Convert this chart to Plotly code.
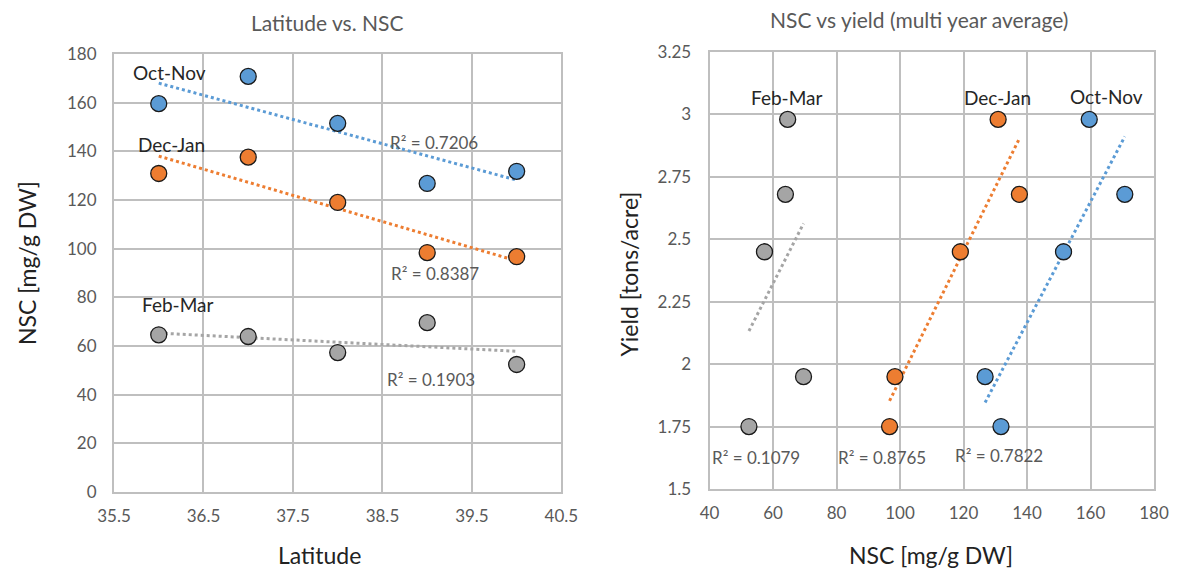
import numpy as np
import plotly.graph_objects as go

# ---------------- data ----------------
latitude = [36, 37, 38, 39, 40]
yield_tons = [2.98, 2.68, 2.45, 1.95, 1.75]   # yield by latitude (36..40)
series_names = ["Oct-Nov", "Dec-Jan", "Feb-Mar"]
nsc_oct_nov = [159.6, 170.8, 151.5, 126.8, 131.8]
nsc_dec_jan = [130.9, 137.6, 119.0, 98.4, 96.7]
nsc_feb_mar = [64.6, 63.9, 57.3, 69.6, 52.4]
r2_left = ["R² = 0.7206", "R² = 0.8387", "R² = 0.1903"]
r2_right = ["R² = 0.7822", "R² = 0.8765", "R² = 0.1079"]

left_xticks = [35.5, 36.5, 37.5, 38.5, 39.5, 40.5]
left_yticks = [0, 20, 40, 60, 80, 100, 120, 140, 160, 180]
right_xticks = [40, 60, 80, 100, 120, 140, 160, 180]
right_yticks = [1.5, 1.75, 2, 2.25, 2.5, 2.75, 3, 3.25]
right_yticklabels = ["1.5", "1.75", "2", "2.25", "2.5", "2.75", "3", "3.25"]

colors = ["#5B9BD5", "#ED7D31", "#A5A5A5"]
nsc_all = [nsc_oct_nov, nsc_dec_jan, nsc_feb_mar]

FONT = "Lato, 'Open Sans', sans-serif"
GRID = "#BFBFBF"
TXT = "#595959"

W, H = 1183, 573
ML, MR, MT, MB = 114, 16, 52, 81
PW, PH = W - ML - MR, H - MT - MB

fig = go.Figure()

def trend(x, y):
    x = np.asarray(x, float); y = np.asarray(y, float)
    m, b = np.polyfit(x, y, 1)
    xs = np.array([x.min(), x.max()])
    return xs, m * xs + b

# left chart
for name, col, nsc in zip(series_names, colors, nsc_all):
    tx, ty = trend(latitude, nsc)
    fig.add_trace(go.Scatter(x=tx, y=ty, mode="lines", xaxis="x", yaxis="y",
                             line=dict(color=col, width=3, dash="dot"),
                             showlegend=False, hoverinfo="skip"))
for name, col, nsc in zip(series_names, colors, nsc_all):
    fig.add_trace(go.Scatter(x=latitude, y=nsc, mode="markers", name=name,
                             xaxis="x", yaxis="y",
                             marker=dict(color=col, size=16,
                                         line=dict(color="#1a1a1a", width=1.3)),
                             showlegend=False))

# right chart
for name, col, nsc in zip(series_names, colors, nsc_all):
    tx, ty = trend(nsc, yield_tons)
    fig.add_trace(go.Scatter(x=tx, y=ty, mode="lines", xaxis="x2", yaxis="y2",
                             line=dict(color=col, width=3, dash="dot"),
                             showlegend=False, hoverinfo="skip"))
for name, col, nsc in zip(series_names, colors, nsc_all):
    fig.add_trace(go.Scatter(x=nsc, y=yield_tons, mode="markers", name=name,
                             xaxis="x2", yaxis="y2",
                             marker=dict(color=col, size=16,
                                         line=dict(color="#1a1a1a", width=1.3)),
                             showlegend=False))

axis_common = dict(showgrid=True, gridcolor=GRID, gridwidth=2,
                   showline=True, linecolor=GRID, linewidth=2, mirror=True,
                   zeroline=False, ticks="",
                   tickfont=dict(family=FONT, size=17, color=TXT))

left_end = (567 - ML) / PW
right_start = (717 - ML) / PW

fig.update_layout(
    width=W, height=H,
    margin=dict(l=ML, r=MR, t=MT, b=MB),
    paper_bgcolor="white", plot_bgcolor="white",
    font=dict(family=FONT),
    xaxis=dict(domain=[0, left_end], range=[35.5, 40.5], tickvals=left_xticks,
               ticktext=[str(v) for v in left_xticks], anchor="y",
               ticklabelstandoff=8, **axis_common),
    yaxis=dict(domain=[0, 1 - 2 / PH], range=[0, 180], tickvals=left_yticks,
               anchor="x", ticklabelstandoff=12, **axis_common),
    xaxis2=dict(domain=[right_start, 1.0], range=[40, 180], tickvals=right_xticks,
                anchor="y2", ticklabelstandoff=8, **axis_common),
    yaxis2=dict(domain=[3 / PH, 1.0], range=[1.5, 3.25], tickvals=right_yticks,
                ticktext=right_yticklabels, anchor="x2",
                ticklabelstandoff=13, **axis_common),
)

ann = []
def add(text, x, y, xref, yref, size=17, color=TXT, angle=0):
    ann.append(dict(text=text, x=x, y=y, xref=xref, yref=yref, showarrow=False,
                    font=dict(family=FONT, size=size, color=color),
                    textangle=angle, xanchor="center", yanchor="middle"))

def addpx(text, px, py, size, color, angle=0):
    add(text, (px - ML) / PW, (H - MB - py) / PH, "paper", "paper", size, color, angle)

# chart titles
addpx("Latitude vs. NSC", 330, 23, 21, TXT)
addpx("NSC vs yield (multi year average)", 929, 19, 21, TXT)
# axis titles
addpx("Latitude", 322, 555, 23, "#222")
addpx("NSC [mg/g DW]", 26, 263, 23, "#222", angle=-90)
addpx("Yield [tons/acre]", 635, 274, 23, "#222", angle=-90)
addpx("NSC [mg/g DW]", 941, 555, 23, "#222")

LBL = "#262626"
# series labels (left)
add("Oct-Nov", 36.12, 172.6, "x", "y", size=19, color=LBL)
add("Dec-Jan", 36.14, 143.0, "x", "y", size=19, color=LBL)
add("Feb-Mar", 36.21, 77.0, "x", "y", size=19, color=LBL)
# R² labels (left)
add(r2_left[0], 39.08, 143.8, "x", "y")
add(r2_left[1], 39.09, 90.0, "x", "y")
add(r2_left[2], 39.04, 46.4, "x", "y")

# series labels (right)
add("Feb-Mar", 64.3, 3.066, "x2", "y2", size=19, color=LBL)
add("Dec-Jan", 130.8, 3.066, "x2", "y2", size=19, color=LBL)
add("Oct-Nov", 165.1, 3.07, "x2", "y2", size=19, color=LBL)
# R² labels (right)
add(r2_right[0], 131.2, 1.636, "x2", "y2")
add(r2_right[1], 94.4, 1.628, "x2", "y2")
add(r2_right[2], 54.6, 1.628, "x2", "y2")

fig.update_layout(annotations=ann)
fig.write_html("out.html")
